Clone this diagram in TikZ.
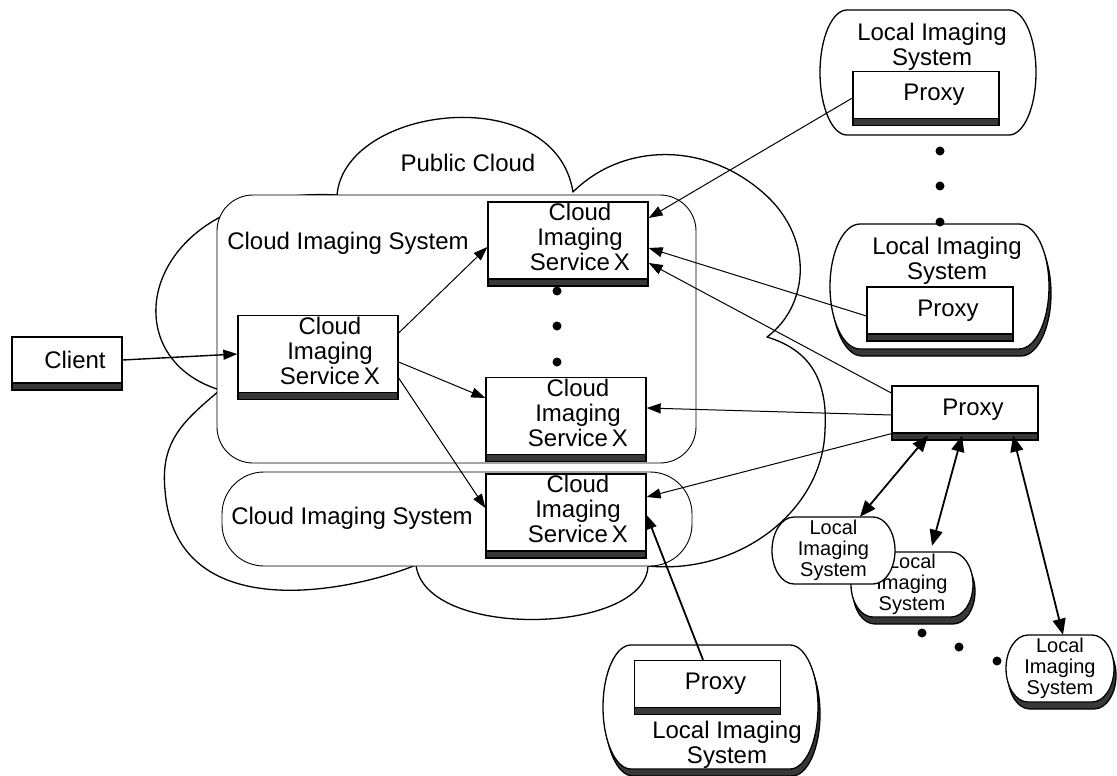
\documentclass[tikz,border=0pt]{standalone}
\usepackage{fontspec}
\setmainfont{Liberation Sans}
\usetikzlibrary{arrows.meta,shadows}
\newcommand{\bigtxt}{\fontsize{24}{25}\selectfont}
\newcommand{\smalltxt}{\fontsize{20}{21}\selectfont}
\newcommand{\cistext}{\hspace*{24pt}\begin{tabular}{@{}c@{}}Cloud\\Imaging\\Service\,X\end{tabular}}
% outline of a local imaging system: centre x, centre y, width, height, side bulge
\newcommand{\lisoutline}[5]{({#1-#3/2+#5},{#2-#4/2}) -- ({#1+#3/2-#5},{#2-#4/2})
  arc[start angle=90,end angle=-90,x radius=#5pt,y radius={#4/2*1pt}]
  -- ({#1-#3/2+#5},{#2+#4/2})
  arc[start angle=270,end angle=90,x radius=#5pt,y radius={#4/2*1pt}] -- cycle}
\tikzset{
  sysbox/.style={draw, fill=white, line width=1.3pt, inner sep=0pt, font=\bigtxt,
    drop shadow={shadow xshift=0pt, shadow yshift=-7pt, fill=black!78, draw=black, opacity=1}},
  cisbox/.style={sysbox, minimum width=160pt, minimum height=77pt},
  proxybox/.style={sysbox, minimum width=146pt, minimum height=47pt},
  container/.style={draw, fill=white, line width=0.9pt, rounded corners=#1},
  cloudline/.style={draw, fill=white, line width=1.3pt, line join=round},
  lisframe/.style={draw, fill=white, line width=1.3pt},
  lisshade/.style={draw, fill=black!78, line width=1.3pt},
  lislabel/.style={align=center, font=\bigtxt, inner sep=0pt},
  lissmall/.style={align=center, font=\smalltxt, inner sep=0pt},
  plain/.style={font=\bigtxt, inner sep=0pt},
  link/.style={line width=1pt, -{Triangle[length=14pt,width=10pt]}},
  thicklink/.style={link, line width=1.8pt},
  duplex/.style={line width=1.8pt, {Triangle[length=16pt,width=13pt]}-{Triangle[length=16pt,width=13pt]}}
}
\begin{document}
\begin{tikzpicture}[x=1pt,y=-1pt]
\useasboundingbox (0,0) rectangle (1117,776);

% public cloud
\draw[cloudline] (220,390) .. controls (105,355) and (145,185) .. (337,195)
  .. controls (345,105) and (555,80) .. (573,192)
  .. controls (620,145) and (700,140) .. (760,190)
  .. controls (815,235) and (810,305) .. (767,337)
  .. controls (810,350) and (828,380) .. (825,430)
  .. controls (823,510) and (740,575) .. (648,566)
  .. controls (645,635) and (425,640) .. (416,565)
  .. controls (350,592) and (175,628) .. (165,490)
  .. controls (160,440) and (185,420) .. (220,390) -- cycle;
\node[plain] (pubcloud) at (468,163) {Public Cloud};

% cloud imaging systems
\draw[container=36pt] (217,195) rectangle (696,463);
\draw[container=42pt] (222,472) rectangle (692,566);
\node[plain] (cisys1) at (348,243) {Cloud Imaging System};
\node[plain] (cisys2) at (352,518) {Cloud Imaging System};

\node[sysbox, minimum width=110pt, minimum height=46pt] (client) at (67,360) {\hspace*{16pt}Client};
\node[cisbox] (cisc) at (318,354) {\cistext};
\node[cisbox] (cis1) at (568,240.5) {\cistext};
\node[cisbox] (cis2) at (566,416) {\cistext};
\node[cisbox] (cis3) at (566,512.5) {\cistext};
\foreach \y in {291,326,362} \fill (557,\y) circle[radius=4.5pt];

% local imaging systems with proxies
\draw[lisframe] \lisoutline{928}{72.5}{216}{125}{27};
\node[lislabel] (lis1) at (932,47) {Local Imaging\\System};
\node[proxybox] (proxy1) at (926,95) {\hspace*{16pt}Proxy};

\draw[lisshade, shift={(2,7)}] \lisoutline{939.5}{286.5}{219}{125}{30};
\draw[lisframe] \lisoutline{939.5}{286.5}{219}{125}{30};
\node[lislabel] (lis2) at (947,261) {Local Imaging\\System};
\node[proxybox] (proxy2) at (940,310.5) {\hspace*{16pt}Proxy};
\foreach \y in {151,186,222} \fill (940,\y) circle[radius=4.5pt];

\draw[lisshade, shift={(2,7)}] \lisoutline{710.5}{707}{215}{124}{28};
\draw[lisframe] \lisoutline{710.5}{707}{215}{124}{28};
\node[proxybox] (proxy5) at (707.5,684) {\hspace*{16pt}Proxy};
\node[lislabel] (lis5) at (727,745) {Local Imaging\\System};

% proxy with its local imaging systems
\node[proxybox] (proxy) at (965,409.5) {\hspace*{16pt}Proxy};
\draw[lisshade, shift={(2,7)}] \lisoutline{912}{584.5}{122}{65}{22};
\draw[lisframe] \lisoutline{912}{584.5}{122}{65}{22};
\node[lissmall, minimum width=122pt, minimum height=65pt] (lisb) at (912,584.5) {Local\\Imaging\\System};
\draw[lisframe] \lisoutline{833.5}{550.5}{123}{67}{22};
\node[lissmall, minimum width=123pt, minimum height=67pt] (lisa) at (833.5,550.5) {Local\\Imaging\\System};
\draw[lisshade, shift={(2,7)}] \lisoutline{1060}{668.5}{108}{67}{22};
\draw[lisframe] \lisoutline{1060}{668.5}{108}{67}{22};
\node[lissmall, minimum width=108pt, minimum height=67pt] (lisc) at (1060,668.5) {Local\\Imaging\\System};
\foreach \x/\y in {922/633,959/647,997/661} \fill (\x,\y) circle[radius=4.5pt];

% connectors
\draw[link, line width=1.4pt] (client.east) -- (cisc.west);
\draw[link] ([yshift=21pt]cisc.east) -- ([yshift=-6.5pt]cis1.west);
\draw[link] ([yshift=-8pt]cisc.east) -- ([yshift=18pt]cis2.west);
\draw[link] ([yshift=-24pt]cisc.east) -- ([yshift=4.5pt]cis3.west);
\draw[link] ([yshift=-3pt]proxy1.west) -- ([yshift=22.5pt]cis1.east);
\draw[link] ([yshift=-5.5pt]proxy2.west) -- ([yshift=-7.5pt]cis1.east);
\draw[link] ([yshift=16.5pt]proxy.west) -- ([yshift=-22.5pt]cis1.east);
\draw[link] ([yshift=-5.5pt]proxy.west) -- ([yshift=8pt]cis2.east);
\draw[link] (proxy.south west) -- ([yshift=15.5pt]cis3.east);
\draw[thicklink] ([xshift=-4.5pt]proxy5.north) -- ([yshift=-2.5pt]cis3.east);
\draw[duplex] ([xshift=-37pt,yshift=-2pt]proxy.south) -- ([xshift=26.5pt]lisa.north);
\draw[duplex] ([xshift=-3pt,yshift=-2pt]proxy.south) -- ([xshift=20pt,yshift=6pt]lisb.north);
\draw[duplex] ([xshift=48pt,yshift=-2pt]proxy.south) -- ([xshift=3pt]lisc.north);
\end{tikzpicture}
\end{document}
